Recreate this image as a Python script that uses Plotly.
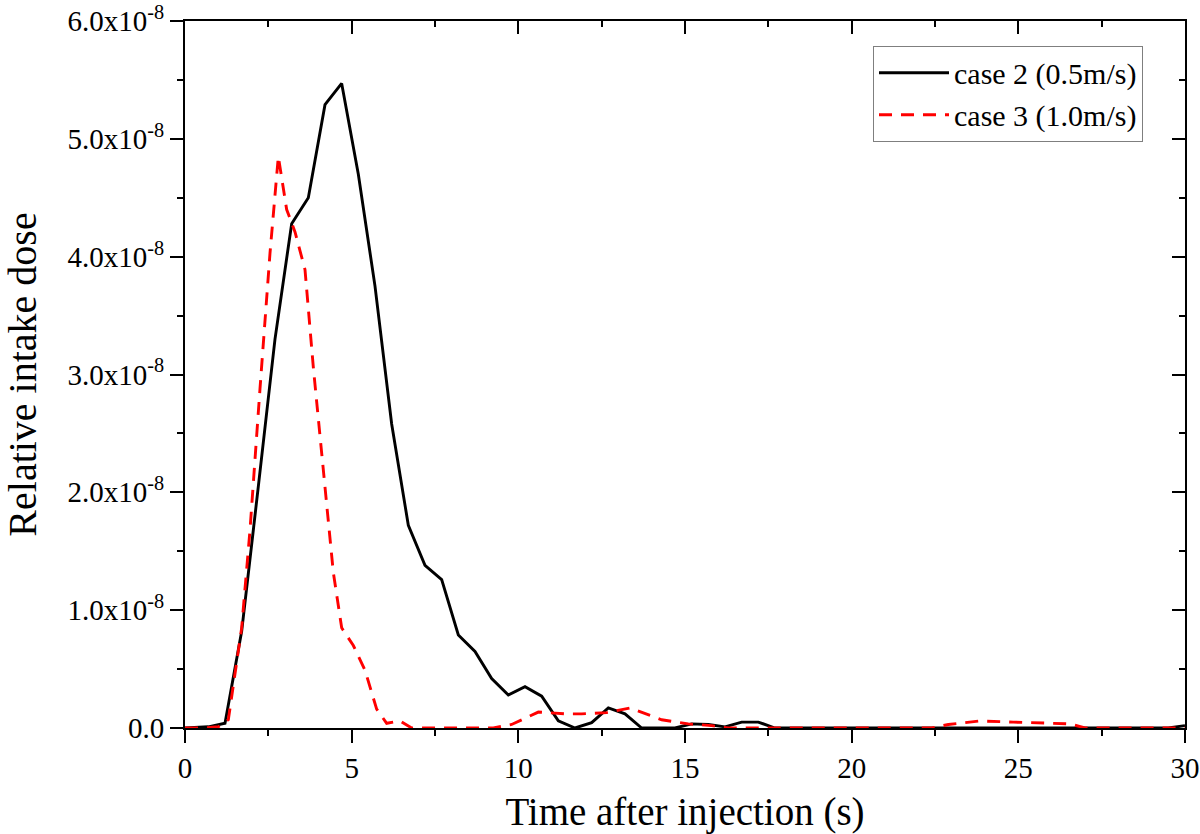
import numpy as np
import plotly.graph_objects as go

# ---- data (values in units of 1e-8) ----
case2_t = [0, 0.7, 1.2, 1.7, 2.2, 2.7, 3.2, 3.7, 4.2, 4.7, 5.2, 5.7, 6.2, 6.7, 7.2, 7.7,
           8.2, 8.7, 9.2, 9.7, 10.2, 10.7, 11.2, 11.7, 12.2, 12.7, 13.2, 13.7, 14.2, 14.7,
           15.2, 15.7, 16.2, 16.7, 17.2, 17.7, 18.5, 20, 22, 24, 26, 28, 29.5, 30]
case2_v = [0, 0.01, 0.04, 0.82, 2.05, 3.3, 4.28, 4.5, 5.29, 5.47, 4.7, 3.75, 2.58, 1.72, 1.38, 1.26,
           0.79, 0.65, 0.42, 0.28, 0.35, 0.27, 0.06, 0.0, 0.045, 0.17, 0.12, 0.0, 0.0, 0.0,
           0.035, 0.03, 0.01, 0.05, 0.05, 0.0, 0.0, 0.0, 0.0, 0.0, 0.0, 0.0, 0.0, 0.02]

case3_t = [0, 0.5, 1.0, 1.3, 1.7, 1.95, 2.25, 2.55, 2.8, 3.05, 3.3, 3.6, 3.85, 4.15, 4.45, 4.7,
           5.05, 5.4, 5.75, 6.05, 6.45, 6.8, 7.5, 8.5, 9.25, 9.8, 10.6, 11.45, 11.9, 12.65,
           13.35, 14.3, 15.1, 15.8, 16.3, 18, 20, 22.4, 22.9, 23.85, 24.85, 25.75, 26.55, 27.0,
           28, 30]
case3_v = [0, 0, 0.01, 0.07, 0.85, 1.68, 2.88, 4.03, 4.85, 4.40, 4.21, 3.89, 3.06, 2.19, 1.32, 0.85,
           0.70, 0.49, 0.16, 0.04, 0.06, 0.0, 0.0, 0.0, 0.0, 0.03, 0.135, 0.12, 0.12, 0.13,
           0.17, 0.07, 0.035, 0.02, 0.0, 0.0, 0.0, 0.0, 0.03, 0.06, 0.05, 0.045, 0.035, 0.0,
           0.0, 0.0]

y_tick_vals = [0, 1, 2, 3, 4, 5, 6]
y_tick_pos = [float(f"{v}e-8") for v in y_tick_vals]
y_tick_text = ["0.0"] + [f"{v:.1f}x10<sup>-8</sup>" for v in y_tick_vals[1:]]
x_tick_vals = [0, 5, 10, 15, 20, 25, 30]
x_range = [0, 30]
y_range = [0, 6.0000001e-8]

FONT = "Liberation Serif, Times New Roman, serif"

fig = go.Figure()
fig.add_trace(go.Scatter(x=case2_t, y=np.array(case2_v) * 1e-8, mode="lines",
                         name="case 2 (0.5m/s)", line=dict(color="black", width=2.9)))
fig.add_trace(go.Scatter(x=case3_t, y=np.array(case3_v) * 1e-8, mode="lines",
                         name="case 3 (1.0m/s)",
                         line=dict(color="#ff0000", width=2.9, dash="13px,9px")))
# invisible anchor trace so the inward ticks on the top/right frame get drawn
fig.add_trace(go.Scatter(x=[x_range[0]], y=[y_range[0]], xaxis="x2", yaxis="y2",
                         mode="markers", marker=dict(opacity=0, size=1),
                         showlegend=False, hoverinfo="skip"))

axis_common = dict(showgrid=False, zeroline=False, linecolor="black",
                   linewidth=2, tickcolor="black", tickwidth=2, ticklen=13,
                   automargin=False)

fig.update_layout(
    width=1200, height=834,
    margin=dict(l=185, r=15, t=21, b=106),
    paper_bgcolor="white", plot_bgcolor="white",
    font=dict(family=FONT, color="black"),
    showlegend=True,
    legend=dict(x=0.688, y=0.965, xanchor="left", yanchor="top",
                bgcolor="white", bordercolor="#7f7f7f", borderwidth=1,
                font=dict(family=FONT, size=30, color="black"),
                itemwidth=70, tracegroupgap=0),
    xaxis=dict(range=x_range, tickvals=x_tick_vals, ticks="outside",
               showline=True, mirror=True,
               tickfont=dict(family=FONT, size=29),
               minor=dict(tickmode="linear", tick0=0, dtick=2.5, ticks="outside",
                          ticklen=6, tickwidth=2, tickcolor="black"),
               title=dict(text="Time after injection (s)",
                          font=dict(family=FONT, size=39), standoff=16),
               **axis_common),
    yaxis=dict(range=y_range, tickvals=y_tick_pos,
               ticktext=y_tick_text, ticks="outside",
               showline=True, mirror=True, ticklabeloverflow="allow",
               tickfont=dict(family=FONT, size=29),
               minor=dict(tickmode="linear", tick0=0, dtick=0.5e-8, ticks="outside",
                          ticklen=6, tickwidth=2, tickcolor="black"),
               title=dict(text="Relative intake dose",
                          font=dict(family=FONT, size=40), standoff=20),
               **axis_common),
    xaxis2=dict(overlaying="x", side="top", range=x_range, showline=False,
                tickvals=x_tick_vals, ticks="inside", showticklabels=False,
                minor=dict(tickmode="linear", tick0=0, dtick=2.5, ticks="inside",
                           ticklen=6, tickwidth=2, tickcolor="black"),
                anchor="y2", **axis_common),
    yaxis2=dict(overlaying="y", side="right", range=y_range, showline=False,
                tickvals=y_tick_pos, ticks="inside",
                showticklabels=False,
                minor=dict(tickmode="linear", tick0=0, dtick=0.5e-8, ticks="inside",
                           ticklen=6, tickwidth=2, tickcolor="black"),
                anchor="x2", **axis_common),
)

fig.write_html("out.html", config={"displayModeBar": False},
               post_script="document.body.style.margin='0';")
